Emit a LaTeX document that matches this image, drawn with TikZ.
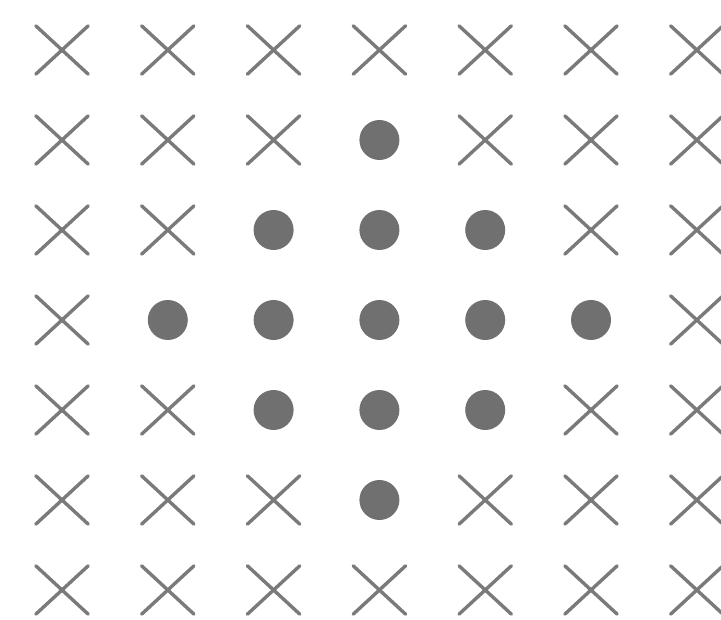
\documentclass[tikz,border=0pt]{standalone}
\usetikzlibrary{shapes.misc}
\definecolor{markgray}{HTML}{7A7A7A}
\definecolor{dotgray}{HTML}{707070}
\tikzset{
  xmark/.style={cross out, draw=markgray, line width=3.4pt, line cap=round, inner sep=0pt, minimum width=49pt, minimum height=45pt},
  dotmark/.style={circle, fill=dotgray, inner sep=0pt, minimum size=40pt}
}
\begin{document}
\begin{tikzpicture}[x=1pt,y=-1pt]
\fill[white] (0,0) rectangle (721,620);
\useasboundingbox (0,0) rectangle (721,620);
\foreach \r in {0,...,6}{
  \foreach \c in {0,...,6}{
    \pgfmathsetmacro{\px}{62+105.8*\c}
    \pgfmathsetmacro{\py}{50+90*\r}
    \pgfmathtruncatemacro{\d}{abs(\r-3)+abs(\c-3)}
    \ifnum\d<3
      \node[dotmark] (m\r\c) at (\px,\py) {};
    \else
      \node[xmark] (m\r\c) at (\px,\py) {};
    \fi
  }
}
\end{tikzpicture}
\end{document}
